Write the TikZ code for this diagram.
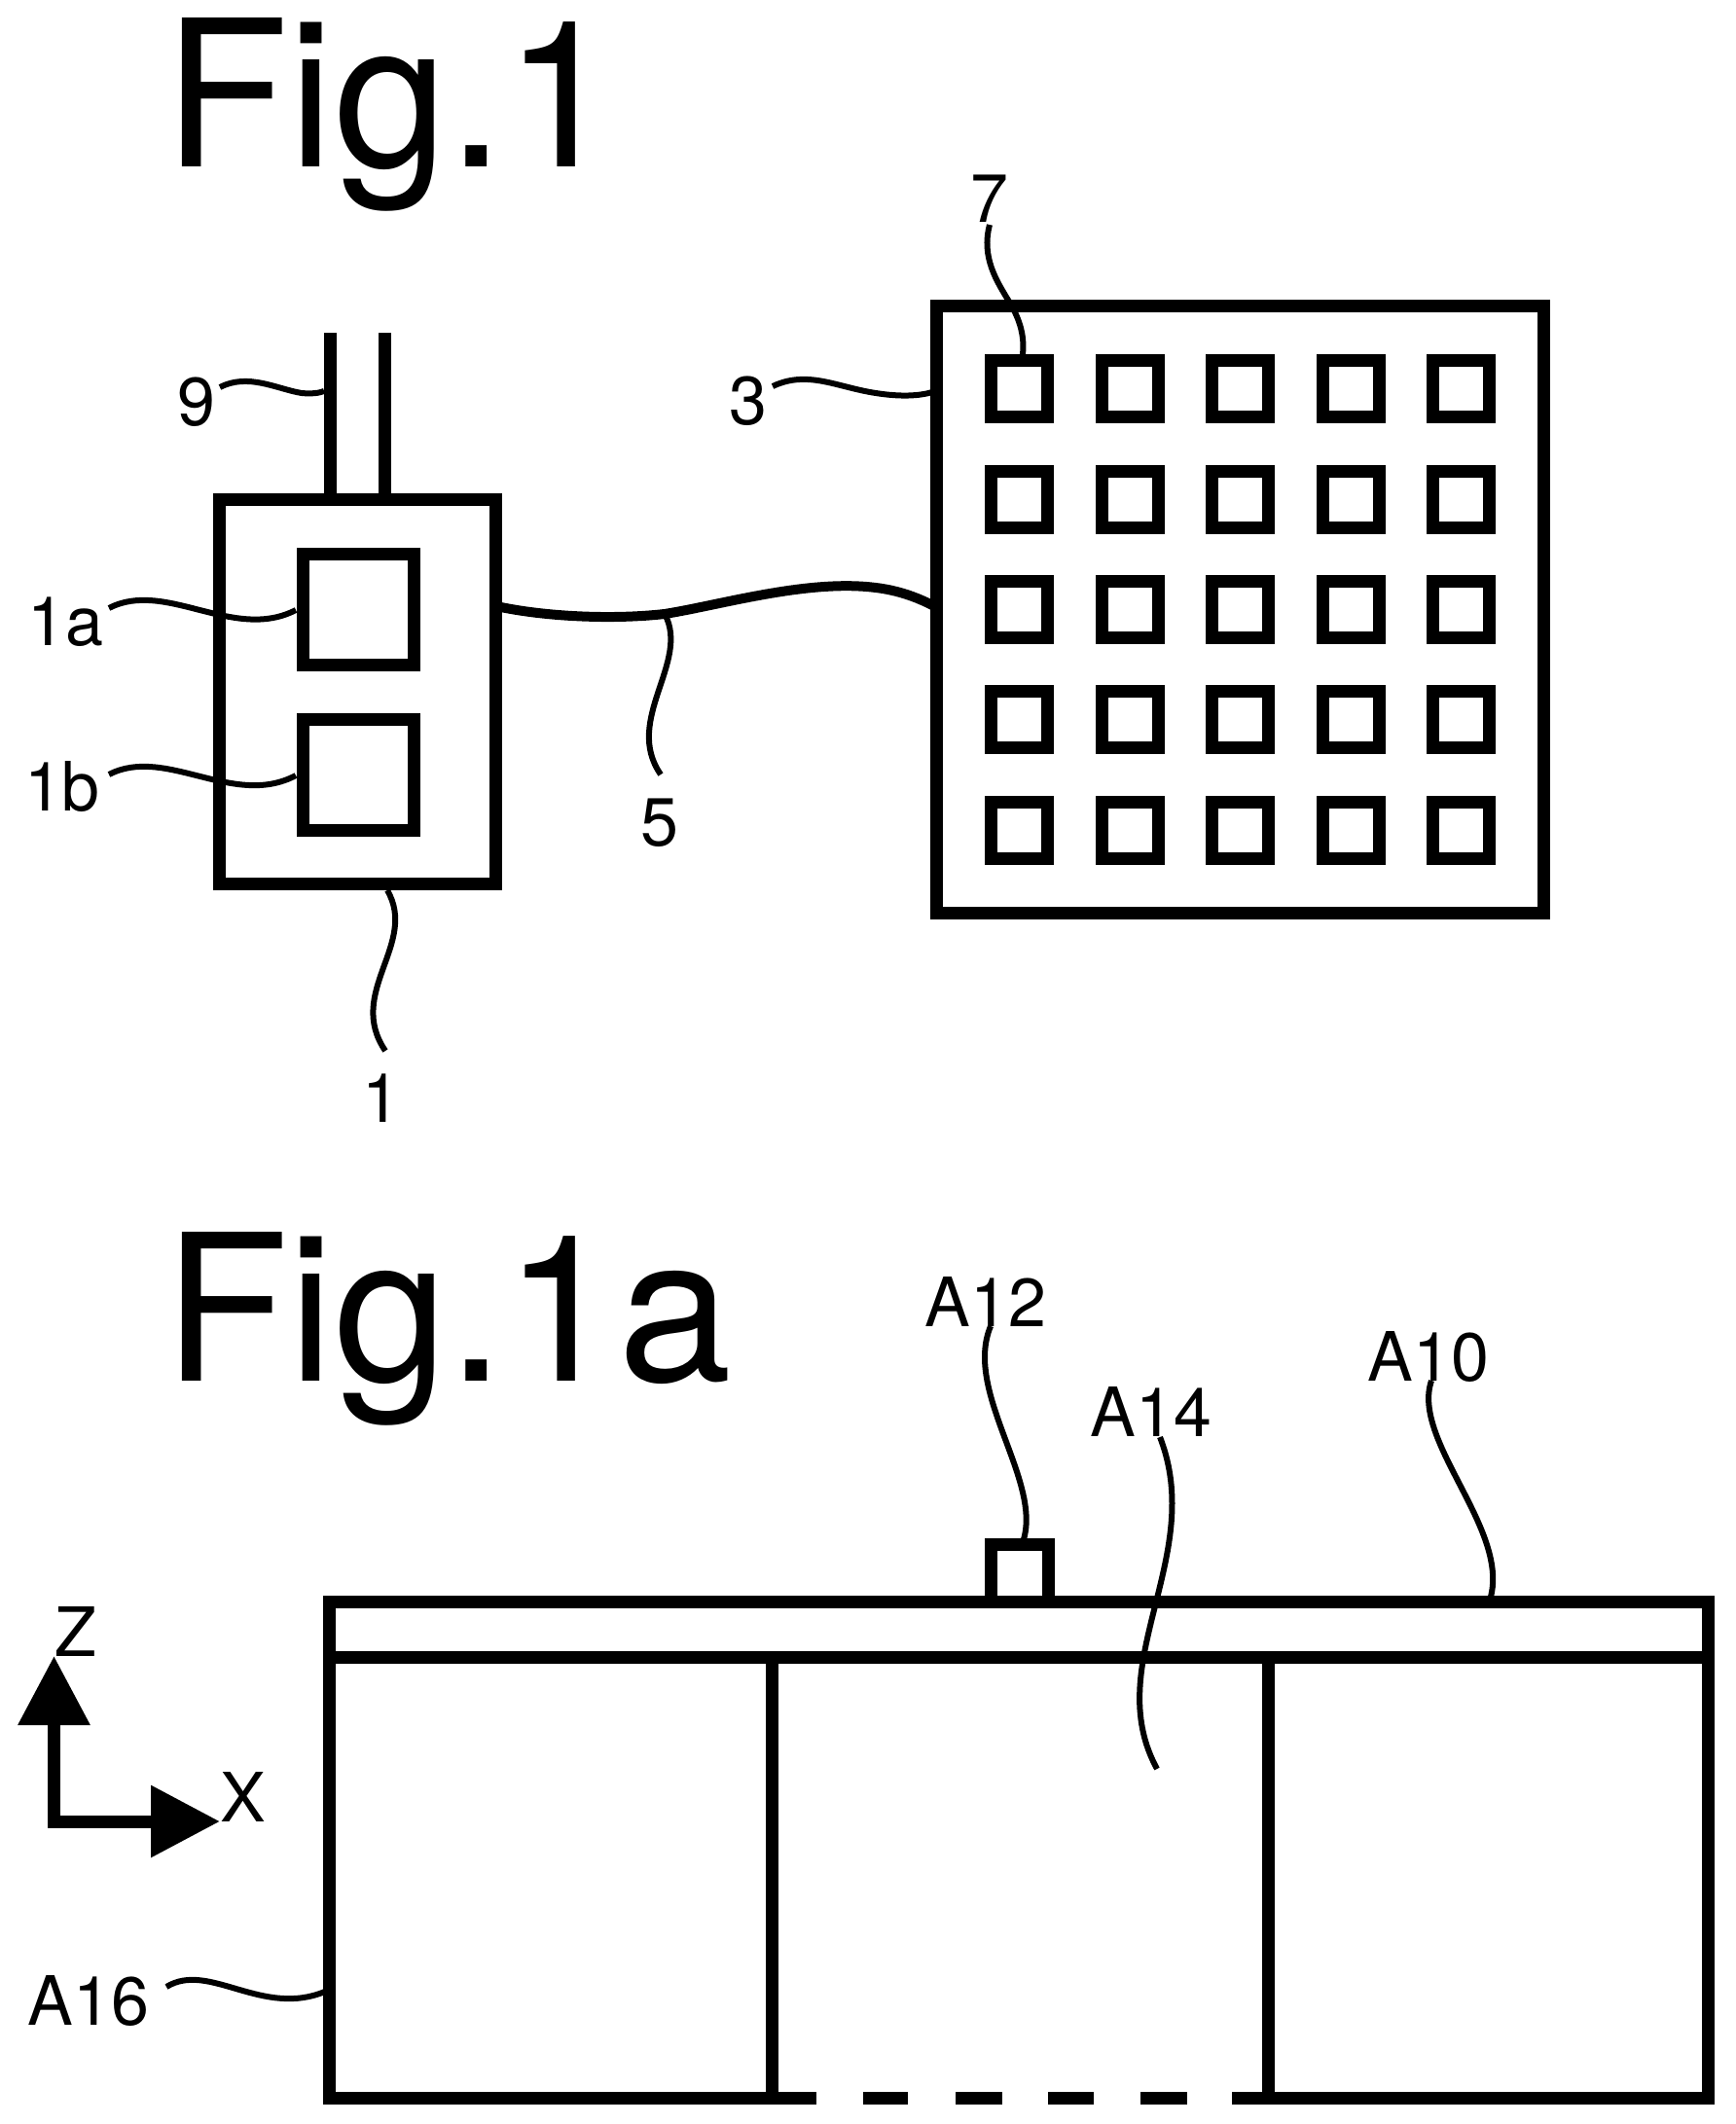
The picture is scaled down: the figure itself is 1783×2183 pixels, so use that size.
\documentclass[tikz,border=0pt]{standalone}
\usepackage{fontspec}
\setmainfont{TeX Gyre Heros}
\usetikzlibrary{arrows.meta}
\tikzstyle{part}=[draw,rectangle,line width=6.5pt,inner sep=0pt,outer sep=0pt]
\tikzstyle{pixel}=[draw,rectangle,line width=6.5pt,inner sep=0pt,outer sep=0pt,minimum size=29pt]
\tikzstyle{wall}=[line width=6.5pt]
\tikzstyle{leader}=[line width=3pt]
\tikzstyle{axis}=[line width=6.5pt,-{Triangle[length=35.5pt,width=35.5pt]}]
\tikzstyle{figlabel}=[anchor=base west,inner sep=0pt,font=\fontsize{105pt}{105pt}\selectfont]
\tikzstyle{reflabel}=[inner sep=0pt,font=\fontsize{35pt}{35pt}\selectfont]

\begin{document}
\begin{tikzpicture}[x=0.5pt,y=-0.5pt]
    \useasboundingbox (0,0) rectangle (1783,2183);
    \node[figlabel] (fig1) at (168,172) {Fig.1};
    \node[figlabel] (fig1a) at (168,1419) {Fig.1a};

    \node[part,minimum width=142pt,minimum height=197.5pt] (1) at (367.7,710.5) {};
    \node[part,minimum width=57pt,minimum height=57pt] (1a) at (368,626.5) {};
    \node[part,minimum width=57pt,minimum height=57pt] (1b) at (368,796.5) {};
    \node[part,minimum width=312pt,minimum height=312pt] (3) at (1274.5,626.5) {};

    \foreach \r/\y in {1/399.5,2/513,3/626,4/739.5,5/853}
      \foreach \c/\x in {1/1047.5,2/1161,3/1274,4/1388,5/1501}
        \node[pixel] (7\r\c) at (\x,\y) {};

    \coordinate (p1) at (339,342);
    \coordinate (p2) at (395.5,342);
    \draw[wall] (p1) -- (p1 |- 1.north);
    \draw[wall] (p2) -- (p2 |- 1.north);

    \coordinate (c1) at (510,623);
    \coordinate (c3) at (962,624);
    \draw[line width=5pt] (c1) .. controls (560,634) and (630,637) .. (683,631)
       .. controls (740,622) and (830,595) .. (900,604)
       .. controls (925,607) and (945,615) .. (c3);

    % labels
    \node[reflabel] (l9) at (202,413) {9};
    \node[reflabel] (l3) at (769,412) {3};
    \node[reflabel] (l1a) at (67,639) {1a};
    \node[reflabel] (l1b) at (64,809) {1b};
    \node[reflabel] (l5) at (678,846) {5};
    \node[reflabel] (l1) at (392,1129) {1};
    \node[reflabel] (l7) at (1017,204) {7};
    \node[reflabel] (a12) at (1013,1338) {A12};
    \node[reflabel] (a10) at (1468,1394) {A10};
    \node[reflabel] (a14) at (1183,1451) {A14};
    \node[reflabel] (a16) at (91,2056) {A16};
    \node[reflabel] (z) at (77.5,1677) {Z};
    \node[reflabel] (x) at (250,1847) {X};

    % leaders
    \draw[leader] (226,398) .. controls (255,383) and (285,400) .. (310,404)
       .. controls (320,405) and (328,404) .. (333,402);
    \draw[leader] (794,397) .. controls (830,380) and (860,398) .. (900,404)
       .. controls (925,408) and (945,407) .. (958,403);
    \draw[leader] (112,625) .. controls (170,595) and (240,660) .. (304,627);
    \draw[leader] (112,796) .. controls (170,766) and (240,831) .. (304,797);
    \draw[leader] (683,631) .. controls (710,680) and (640,740) .. (679,796);
    \draw[leader] (398,915) .. controls (430,970) and (355,1020) .. (396,1080);
    \draw[leader] (1017,231) .. controls (1008,265) and (1025,290) .. (1037,310)
       .. controls (1048,328) and (1053,345) .. (1051,364);
    \draw[leader] (1018,1363) .. controls (990,1430) and (1070,1520) .. (1052,1582);
    \draw[leader] (1192,1477) .. controls (1240,1600) and (1130,1710) .. (1189,1818);
    \draw[leader] (1471,1419) .. controls (1450,1480) and (1550,1570) .. (1532,1641);
    \draw[leader] (171,2042) .. controls (215,2015) and (270,2075) .. (336,2046);

    % lower figure
    \coordinate (tl) at (338.5,1646.5);
    \coordinate (tr) at (1755,1646.5);
    \coordinate (ml) at (338.5,1703.5);
    \coordinate (mr) at (1755,1703.5);
    \coordinate (bl) at (338.5,2156);
    \coordinate (br) at (1755,2156);
    \draw[wall] (839,2156) -- (bl) -- (tl) -- (tr) -- (br) -- (1266,2156);
    \draw[wall] (ml) -- (mr);
    \draw[wall] (793,1703.5) -- (793,2156);
    \draw[wall] (1303,1703.5) -- (1303,2156);
    \foreach \xa/\xb in {887/933,982/1030,1077/1124,1172/1220}
      \draw[wall] (\xa,2156) -- (\xb,2156);
    \draw[wall] (1018,1646.5) -- (1018,1587) -- (1077,1587) -- (1077,1646.5);

    % axes
    \coordinate (o) at (55.5,1872);
    \coordinate (zt) at (55.5,1702);
    \coordinate (xt) at (226,1872);
    \draw[axis] (o) -- (zt);
    \draw[axis] (49,1872) -- (xt);
\end{tikzpicture}
\end{document}
